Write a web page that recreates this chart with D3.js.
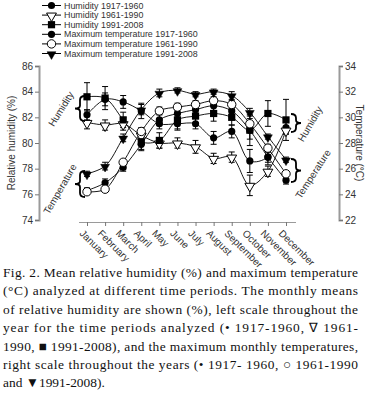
<!DOCTYPE html>
<html>
<head>
<meta charset="utf-8">
<script src="https://cdn.jsdelivr.net/npm/d3@7"></script>
<style>
  html, body { margin: 0; padding: 0; background: #fff; }
  svg { display: block; }
</style>
</head>
<body>
<div id="chart"></div>
<script>
// months on the x axis
const months = ["January", "February", "March", "April", "May", "June",
  "July", "August", "September", "October", "November", "December"];

// relative humidity (%), left scale
const humidity1917 = [82.2, 83.4, 83.2, 82.5, 81.5, 81.5, 81.5, 80.4, 80.9, 78.6, 78.9, 81.2];
const humidity1961 = [81.6, 81.4, 81.5, 80.6, 80.0, 80.0, 79.7, 78.8, 78.9, 76.7, 77.8, 81.0];
const humidity1991 = [83.6, 83.5, 81.8, 80.1, 80.2, 81.8, 82.1, 82.3, 82.0, 81.0, 82.3, 81.8];
const humidity1917Err = [0.4, 0.5, 0.5, 0.6, 0.4, 0.5, 0.4, 0.5, 0.5, 0.9, 0.6, 0.5];
const humidity1961Err = [0.5, 0.4, 0.5, 0.5, 0.4, 0.4, 0.5, 0.4, 0.4, 0.8, 0.4, 0.3];
const humidity1991Err = [1.1, 0.9, 0.6, 0.7, 0.6, 0.7, 0.5, 0.6, 0.6, 1.2, 1.0, 1.6];

// maximum temperature (°C), right scale
const temp1917 = [24.3, 24.9, 26.1, 27.9, 29.8, 30.3, 30.6, 30.9, 30.5, 29.0, 26.9, 25.1];
const temp1961 = [24.2, 24.4, 26.5, 28.9, 30.5, 30.8, 31.0, 31.3, 31.0, 29.5, 27.6, 25.6];
const temp1991 = [25.6, 26.2, 28.4, 30.6, 31.9, 32.1, 31.8, 32.0, 31.7, 30.4, 28.5, 26.7];
const temp1917Err = [0.2, 0.3, 0.3, 0.4, 0.4, 0.5, 0.5, 0.4, 0.5, 0.7, 0.4, 0.3];
const temp1961Err = [0.1, 0.2, 0.2, 0.3, 0.3, 0.3, 0.3, 0.3, 0.3, 0.4, 0.3, 0.2];
const temp1991Err = [0.2, 0.3, 0.3, 0.4, 0.3, 0.2, 0.2, 0.2, 0.3, 0.3, 0.2, 0.2];

const humTicks = [74, 76, 78, 80, 82, 84, 86];
const tempTicks = [22, 24, 26, 28, 30, 32, 34];

const legendLabels = ["Humidity 1917-1960", "Humidity 1961-1990", "Humidity 1991-2008",
  "Maximum temperature 1917-1960", "Maximum temperature 1961-1990", "Maximum temperature 1991-2008"];

const captionLines = [
  "Fig. 2. Mean relative humidity (%) and maximum temperature",
  "(°C) analyzed at different time periods. The monthly means",
  "of relative humidity are shown (%), left scale throughout the",
  "year for the time periods analyzed (• 1917-1960, ∇ 1961-",
  "1990, ■ 1991-2008), and the maximum monthly temperatures,",
  "right scale throughout the years (• 1917- 1960, ○ 1961-1990",
  "and ▼1991-2008)."
];

const width = 368, height = 400;
const svg = d3.select("#chart").append("svg")
  .attr("width", width).attr("height", height)
  .style("background-color", "#ffffff");

const x = d3.scalePoint().domain(months).range([87, 286]);
const yL = d3.scaleLinear().domain([74, 86]).range([220, 66]);
const yR = d3.scaleLinear().domain([22, 34]).range([220, 66]);

const font = "Liberation Sans, Arial, sans-serif";

// series: marker type
const series = [
  { vals: humidity1917, err: humidity1917Err, y: yL, mark: "dot" },
  { vals: humidity1961, err: humidity1961Err, y: yL, mark: "tri-open" },
  { vals: humidity1991, err: humidity1991Err, y: yL, mark: "square" },
  { vals: temp1917, err: temp1917Err, y: yR, mark: "dot" },
  { vals: temp1961, err: temp1961Err, y: yR, mark: "circle-open" },
  { vals: temp1991, err: temp1991Err, y: yR, mark: "tri" }
];

const drawMark = (sel, type, cx, cy) => {
  if (type === "dot") {
    sel.append("circle").attr("cx", cx).attr("cy", cy).attr("r", 3.6).attr("fill", "#000");
  } else if (type === "circle-open") {
    sel.append("circle").attr("cx", cx).attr("cy", cy).attr("r", 4.2)
      .attr("fill", "#fff").attr("stroke", "#000").attr("stroke-width", 1);
  } else if (type === "square") {
    sel.append("rect").attr("x", cx - 3.6).attr("y", cy - 3.6).attr("width", 7.2).attr("height", 7.2).attr("fill", "#000");
  } else {
    const open = type === "tri-open";
    sel.append("path")
      .attr("d", d3.symbol().type(d3.symbolTriangle).size(open ? 42 : 34)())
      .attr("transform", `translate(${cx},${cy + 0.8}) rotate(180)`)
      .attr("fill", open ? "#fff" : "#000")
      .attr("stroke", "#000").attr("stroke-width", open ? 1 : 0.5);
  }
};

const plot = svg.append("g");
const line = (ys) => d3.line()
  .x((d, i) => x(months[i]))
  .y((d) => ys(d))
  .curve(d3.curveCatmullRom.alpha(0.5));

// lines
series.forEach((s) => {
  plot.append("path").datum(s.vals).attr("d", line(s.y))
    .attr("fill", "none").attr("stroke", "#000").attr("stroke-width", 0.9);
});

// error bars
series.forEach((s) => {
  const g = plot.append("g").attr("stroke", "#000").attr("stroke-width", 1);
  s.vals.forEach((v, i) => {
    const cx = x(months[i]);
    const y1 = s.y(v - s.err[i]), y2 = s.y(v + s.err[i]);
    g.append("line").attr("x1", cx).attr("x2", cx).attr("y1", y1).attr("y2", y2);
    g.append("line").attr("x1", cx - 3).attr("x2", cx + 3).attr("y1", y1).attr("y2", y1);
    g.append("line").attr("x1", cx - 3).attr("x2", cx + 3).attr("y1", y2).attr("y2", y2);
  });
});

// markers
series.forEach((s) => {
  const g = plot.append("g");
  s.vals.forEach((v, i) => drawMark(g, s.mark, x(months[i]), s.y(v)));
});

// left axis
const axisL = svg.append("g").attr("transform", "translate(39,0)")
  .call(d3.axisLeft(yL).tickValues(humTicks).tickSize(4).tickPadding(2));
// right axis
const axisR = svg.append("g").attr("transform", "translate(339,0)")
  .call(d3.axisRight(yR).tickValues(tempTicks).tickSize(4).tickPadding(2));
[axisL, axisR].forEach((a) => {
  a.select(".domain").attr("stroke", "#9a9a9a").attr("stroke-width", 2);
  a.selectAll(".tick line").attr("stroke", "#777");
  a.selectAll("text").attr("font-family", font).attr("font-size", 10).attr("fill", "#333");
});

// x axis (detached from the y axes)
const axisX = svg.append("g").attr("transform", "translate(0,222)")
  .call(d3.axisBottom(x).tickSize(4).tickFormat(""));
axisX.select(".domain").attr("d", "M79,0.5H296").attr("stroke", "#9a9a9a").attr("stroke-width", 1.2);
axisX.selectAll(".tick line").attr("stroke", "#777");

svg.append("g").selectAll("text").data(months).join("text")
  .attr("transform", (d) => `translate(${x(d) - 3},229) rotate(45)`)
  .attr("dy", "0.7em")
  .attr("font-family", font).attr("font-size", 10).attr("fill", "#333")
  .text((d) => d);

// axis titles
svg.append("text").attr("transform", "translate(11,143) rotate(-90)")
  .attr("text-anchor", "middle").attr("dy", "0.35em")
  .attr("font-family", font).attr("font-size", 10).attr("fill", "#333")
  .text("Relative humidity (%)");
svg.append("text").attr("transform", "translate(359,143) rotate(90)")
  .attr("text-anchor", "middle").attr("dy", "0.35em")
  .attr("font-family", font).attr("font-size", 10).attr("fill", "#333")
  .text("Temperature (°C)");

// braces
const brace = (bx, y0, y1, dir) => {
  const w = 5 * dir, ym = (y0 + y1) / 2;
  return `M${bx + w},${y0} Q${bx},${y0} ${bx},${y0 + 4} L${bx},${ym - 3} Q${bx},${ym} ${bx - w},${ym}` +
    ` Q${bx},${ym} ${bx},${ym + 3} L${bx},${y1 - 4} Q${bx},${y1} ${bx + w},${y1}`;
};
const braces = [
  [80, 96, 121, 1], [80, 171, 197, 1], [296, 114, 132, -1], [296, 159, 182, -1]
];
svg.append("g").selectAll("path").data(braces).join("path")
  .attr("d", (d) => brace(d[0], d[1], d[2], d[3]))
  .attr("fill", "none").attr("stroke", "#000").attr("stroke-width", 1.8);

const braceLabels = [
  ["Humidity", 61, 109, -58], ["Temperature", 60, 189, -60],
  ["Humidity", 310, 124, -60], ["Temperature", 313, 174, -57]
];
svg.append("g").selectAll("text").data(braceLabels).join("text")
  .attr("transform", (d) => `translate(${d[1]},${d[2]}) rotate(${d[3]})`)
  .attr("text-anchor", "middle").attr("dy", "0.35em")
  .attr("font-family", font).attr("font-size", 10).attr("fill", "#333")
  .text((d) => d[0]);

// legend
const legendMarks = ["dot", "tri-open", "square", "dot", "circle-open", "tri"];
const legend = svg.append("g");
legendLabels.forEach((lab, i) => {
  const ly = 5.5 + i * 9.6;
  legend.append("line").attr("x1", 42).attr("x2", 61).attr("y1", ly).attr("y2", ly)
    .attr("stroke", "#000").attr("stroke-width", 1);
  drawMark(legend, legendMarks[i], 51.5, ly);
  legend.append("text").attr("x", 64).attr("y", ly).attr("dy", "0.35em")
    .attr("font-family", font).attr("font-size", 8.9).attr("fill", "#333")
    .text(lab);
});

// caption
const cap = svg.append("g");
captionLines.forEach((t, i) => {
  const el = cap.append("text").attr("x", 3).attr("y", 277 + i * 18.4)
    .attr("font-family", "Liberation Serif, Times New Roman, serif")
    .attr("font-size", 13.4).attr("fill", "#111")
    .text(t);
  if (i < captionLines.length - 1) el.attr("textLength", 355).attr("lengthAdjust", "spacing");
});
</script>
</body>
</html>
